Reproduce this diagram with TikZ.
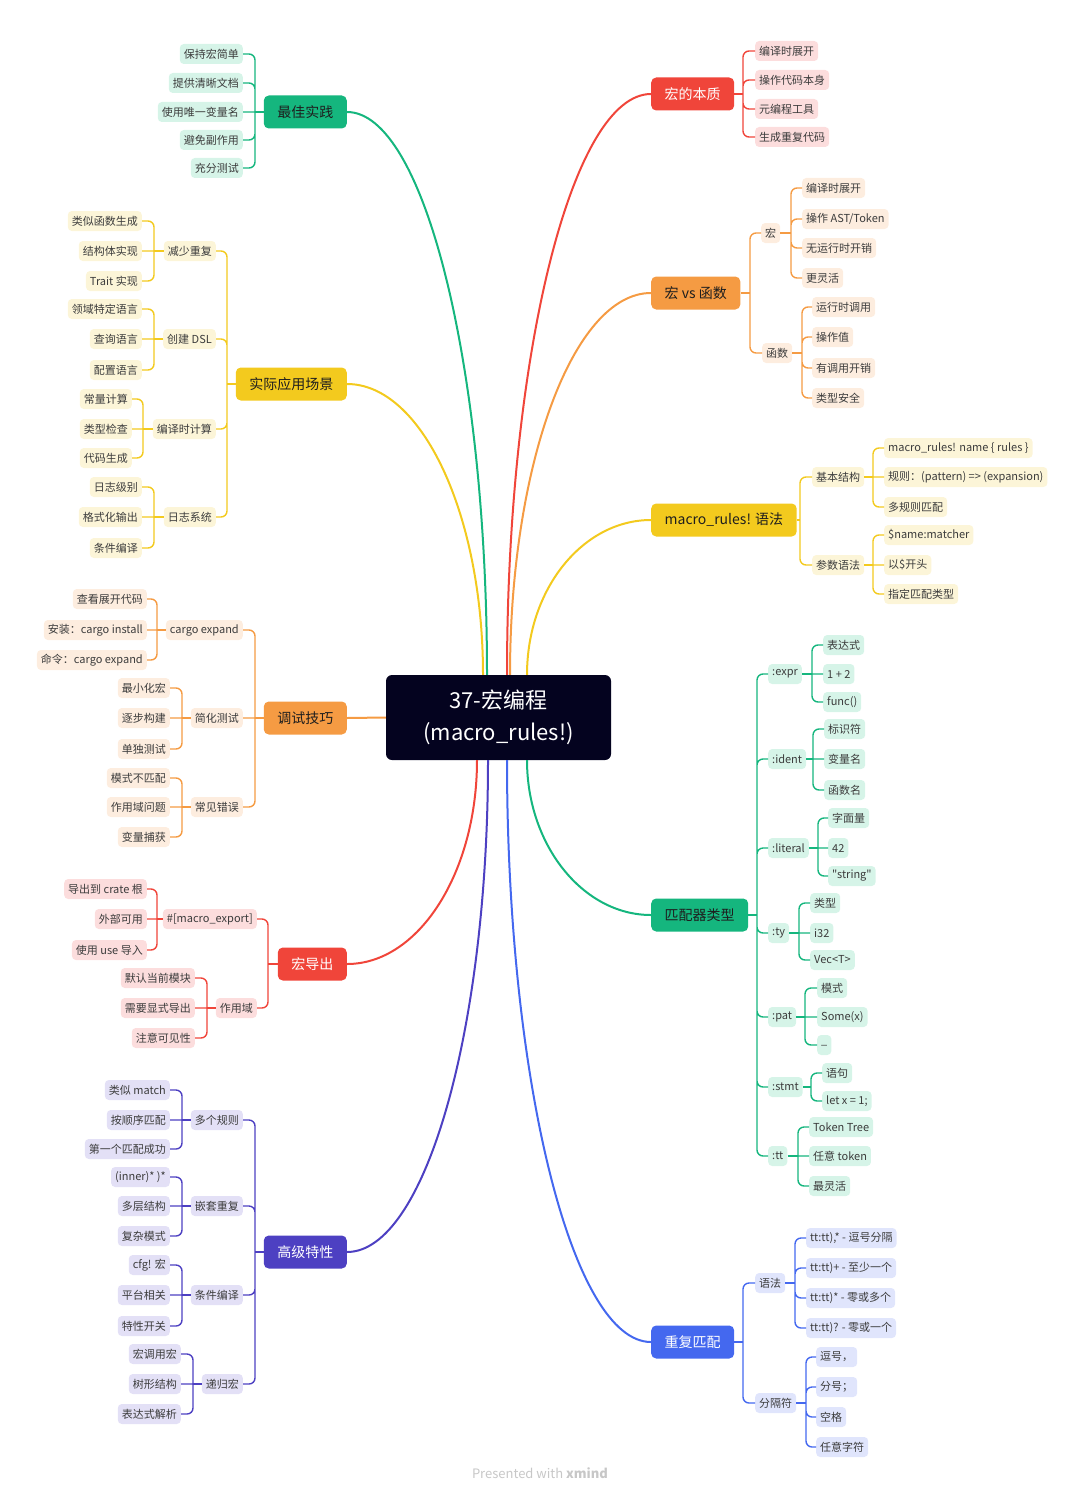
\documentclass[tikz,border=0pt]{standalone}
\usepackage{fontspec}
\setmainfont{Noto Sans CJK SC}
\newfontfamily\plainquote{Noto Sans CJK SC}[Ligatures=TeXOff]
\usepackage{tikz}

\definecolor{rootC}{HTML}{04031F}
\definecolor{ink}{HTML}{1E1E1E}
\definecolor{leafInk}{HTML}{3C3C3C}
\definecolor{redM}{HTML}{F0453A}
\definecolor{redL}{HTML}{FCDDDD}
\definecolor{orgM}{HTML}{F59B43}
\definecolor{orgL}{HTML}{FDEDDF}
\definecolor{yelM}{HTML}{F3CA1E}
\definecolor{yelL}{HTML}{FCF5D8}
\definecolor{grnM}{HTML}{15B67E}
\definecolor{grnL}{HTML}{D6F4E8}
\definecolor{bluM}{HTML}{4468EF}
\definecolor{bluL}{HTML}{E0E5FC}
\definecolor{purM}{HTML}{4D40C2}
\definecolor{purL}{HTML}{E3E0F6}

\begin{document}
\begin{tikzpicture}[x=1pt, y=-1pt,
    rootbox/.style={fill=rootC, text=white, rounded corners=6pt, minimum width=225pt, minimum height=85pt, align=center, font=\fontsize{22}{32}\selectfont},
    topic/.style={rounded corners=5pt, minimum height=33pt, inner xsep=13.5pt, inner ysep=0pt, text=ink, font=\fontsize{14}{16}\selectfont},
    leaf/.style={rounded corners=4pt, minimum height=20pt, inner xsep=4pt, inner ysep=0pt, text=leafInk, font=\fontsize{11}{13}\selectfont},
    trunk/.style={line width=2pt},
    twig/.style={line width=1.4pt, rounded corners=6pt}]
        \useasboundingbox (0,0) rectangle (1080,1498);

        % root and main topics
        \node[rootbox] (root) at (498.5,717.5) {37-宏编程\\(macro\_rules!)};
        \node[topic, fill=redM, text=white, anchor=west] (ess) at (651,94) {宏的本质};
        \node[topic, fill=orgM, anchor=west] (cmp) at (651,293) {宏 vs 函数};
        \node[topic, fill=yelM, anchor=west] (syn) at (651,520) {macro\_rules! 语法};
        \node[topic, fill=grnM, anchor=west] (mat) at (651,915) {匹配器类型};
        \node[topic, fill=bluM, text=white, anchor=west] (rep) at (651,1342) {重复匹配};
        \node[topic, fill=grnM, anchor=east] (best) at (347,112) {最佳实践};
        \node[topic, fill=yelM, anchor=east] (app) at (347,384) {实际应用场景};
        \node[topic, fill=orgM, anchor=east] (dbg) at (347,718) {调试技巧};
        \node[topic, fill=redM, text=white, anchor=east] (exp) at (347,964) {宏导出};
        \node[topic, fill=purM, text=white, anchor=east] (adv) at (347,1252) {高级特性};

        \draw[trunk, grnM] ([xshift=-11.5pt]root.north) .. controls +(0,-310) and +(77,0) .. (best.east);
        \draw[trunk, yelM] ([xshift=-15.5pt]root.north) .. controls +(0,-160) and +(75,0) .. (app.east);
        \draw[trunk, orgM] (root.west) -- (dbg.east);
        \draw[trunk, redM] ([xshift=-21.5pt]root.south) .. controls +(0,112) and +(72,0) .. (exp.east);
        \draw[trunk, purM] ([xshift=-10.5pt]root.south) .. controls +(0,270) and +(78,0) .. (adv.east);
        \draw[trunk, redM] ([xshift=8.5pt]root.north) .. controls +(0,-320) and +(-79,0) .. (ess.west);
        \draw[trunk, orgM] ([xshift=11.5pt]root.north) .. controls +(0,-210) and +(-78,0) .. (cmp.west);
        \draw[trunk, yelM] ([xshift=28.5pt]root.north) .. controls +(0,-86) and +(-68,0) .. (syn.west);
        \draw[trunk, grnM] ([xshift=28.5pt]root.south) .. controls +(0,85) and +(-68,0) .. (mat.west);
        \draw[trunk, bluM] ([xshift=8.5pt]root.south) .. controls +(0,320) and +(-79,0) .. (rep.west);

        % 宏的本质
        \node[leaf, fill=redL, anchor=west] (essa) at (755,51) {编译时展开};
        \node[leaf, fill=redL, anchor=west] (essb) at (755,80) {操作代码本身};
        \node[leaf, fill=redL, anchor=west] (essc) at (755,109) {元编程工具};
        \node[leaf, fill=redL, anchor=west] (essd) at (755,137) {生成重复代码};
        \draw[twig, redM] (ess.east) -- (743,94) coordinate (essJ);
        \draw[twig, redM] (essJ) |- (essa.west) (essJ) |- (essb.west) (essJ) |- (essc.west) (essJ) |- (essd.west);

        % 宏 vs 函数
        \node[leaf, fill=orgL, anchor=west] (cmpM) at (761,233) {宏};
        \node[leaf, fill=orgL, anchor=west] (cmpF) at (762,353) {函数};
        \draw[twig, orgM] (cmp.east) -- (750,293) coordinate (cmpJ);
        \draw[twig, orgM] (cmpJ) |- (cmpM.west) (cmpJ) |- (cmpF.west);
        \node[leaf, fill=orgL, anchor=west] (cmpMa) at (802,188) {编译时展开};
        \node[leaf, fill=orgL, anchor=west] (cmpMb) at (802,219) {操作 AST/Token};
        \node[leaf, fill=orgL, anchor=west] (cmpMc) at (802,248) {无运行时开销};
        \node[leaf, fill=orgL, anchor=west] (cmpMd) at (802,278) {更灵活};
        \draw[twig, orgM] (cmpM.east) -- (791,233) coordinate (cmpMJ);
        \draw[twig, orgM] (cmpMJ) |- (cmpMa.west) (cmpMJ) |- (cmpMb.west) (cmpMJ) |- (cmpMc.west) (cmpMJ) |- (cmpMd.west);
        \node[leaf, fill=orgL, anchor=west] (cmpFa) at (812,307) {运行时调用};
        \node[leaf, fill=orgL, anchor=west] (cmpFb) at (812,337) {操作值};
        \node[leaf, fill=orgL, anchor=west] (cmpFc) at (812,368) {有调用开销};
        \node[leaf, fill=orgL, anchor=west] (cmpFd) at (812,398) {类型安全};
        \draw[twig, orgM] (cmpF.east) -- (802,353) coordinate (cmpFJ);
        \draw[twig, orgM] (cmpFJ) |- (cmpFa.west) (cmpFJ) |- (cmpFb.west) (cmpFJ) |- (cmpFc.west) (cmpFJ) |- (cmpFd.west);

        % macro_rules! 语法
        \node[leaf, fill=yelL, anchor=west] (synB) at (812,477) {基本结构};
        \node[leaf, fill=yelL, anchor=west] (synP) at (812,565) {参数语法};
        \draw[twig, yelM] (syn.east) -- (800,520) coordinate (synJ);
        \draw[twig, yelM] (synJ) |- (synB.west) (synJ) |- (synP.west);
        \node[leaf, fill=yelL, anchor=west] (synBa) at (884,448) {macro\_rules! name \{ rules \}};
        \node[leaf, fill=yelL, anchor=west] (synBb) at (884,477) {规则：(pattern) => (expansion)};
        \node[leaf, fill=yelL, anchor=west] (synBc) at (884,507) {多规则匹配};
        \draw[twig, yelM] (synB.east) -- (873,477) coordinate (synBJ);
        \draw[twig, yelM] (synBJ) |- (synBa.west) (synBJ) -- (synBb.west) (synBJ) |- (synBc.west);
        \node[leaf, fill=yelL, anchor=west] (synPa) at (884,535) {\$name:matcher};
        \node[leaf, fill=yelL, anchor=west] (synPb) at (884,565) {以\$开头};
        \node[leaf, fill=yelL, anchor=west] (synPc) at (884,594) {指定匹配类型};
        \draw[twig, yelM] (synP.east) -- (873,565) coordinate (synPJ);
        \draw[twig, yelM] (synPJ) |- (synPa.west) (synPJ) -- (synPb.west) (synPJ) |- (synPc.west);

        % 匹配器类型
        \node[leaf, fill=grnL, anchor=west] (matE) at (768,674) {:expr};
        \node[leaf, fill=grnL, anchor=west] (matI) at (768,759) {:ident};
        \node[leaf, fill=grnL, anchor=west] (matL) at (768,848) {:literal};
        \node[leaf, fill=grnL, anchor=west] (matT) at (768,933) {:ty};
        \node[leaf, fill=grnL, anchor=west] (matP) at (768,1017) {:pat};
        \node[leaf, fill=grnL, anchor=west] (matS) at (768,1087) {:stmt};
        \node[leaf, fill=grnL, anchor=west] (matX) at (768,1156) {:tt};
        \draw[twig, grnM] (mat.east) -- (757,915) coordinate (matJ);
        \draw[twig, grnM] (matJ) |- (matE.west) (matJ) |- (matI.west) (matJ) |- (matL.west) (matJ) |- (matT.west)
            (matJ) |- (matP.west) (matJ) |- (matS.west) (matJ) |- (matX.west);
        \node[leaf, fill=grnL, anchor=west] (matEa) at (823,645) {表达式};
        \node[leaf, fill=grnL, anchor=west] (matEb) at (823,674) {1 + 2};
        \node[leaf, fill=grnL, anchor=west] (matEc) at (823,702) {func()};
        \draw[twig, grnM] (matE.east) -- (812,674) coordinate (matEJ);
        \draw[twig, grnM] (matEJ) |- (matEa.west) (matEJ) -- (matEb.west) (matEJ) |- (matEc.west);
        \node[leaf, fill=grnL, anchor=west] (matIa) at (824,729) {标识符};
        \node[leaf, fill=grnL, anchor=west] (matIb) at (824,759) {变量名};
        \node[leaf, fill=grnL, anchor=west] (matIc) at (824,790) {函数名};
        \draw[twig, grnM] (matI.east) -- (813,759) coordinate (matIJ);
        \draw[twig, grnM] (matIJ) |- (matIa.west) (matIJ) -- (matIb.west) (matIJ) |- (matIc.west);
        \node[leaf, fill=grnL, anchor=west] (matLa) at (828,818) {字面量};
        \node[leaf, fill=grnL, anchor=west] (matLb) at (828,848) {42};
        \node[leaf, fill=grnL, anchor=west] (matLc) at (828,876) {\plainquote "string"};
        \draw[twig, grnM] (matL.east) -- (818,848) coordinate (matLJ);
        \draw[twig, grnM] (matLJ) |- (matLa.west) (matLJ) -- (matLb.west) (matLJ) |- (matLc.west);
        \node[leaf, fill=grnL, anchor=west] (matTa) at (810,903) {类型};
        \node[leaf, fill=grnL, anchor=west] (matTb) at (810,933) {i32};
        \node[leaf, fill=grnL, anchor=west] (matTc) at (810,960) {Vec<T>};
        \draw[twig, grnM] (matT.east) -- (799,933) coordinate (matTJ);
        \draw[twig, grnM] (matTJ) |- (matTa.west) (matTJ) -- (matTb.west) (matTJ) |- (matTc.west);
        \node[leaf, fill=grnL, anchor=west] (matPa) at (817,988) {模式};
        \node[leaf, fill=grnL, anchor=west] (matPb) at (817,1017) {Some(x)};
        \node[leaf, fill=grnL, anchor=west] (matPc) at (817,1045) {\_};
        \draw[twig, grnM] (matP.east) -- (805,1017) coordinate (matPJ);
        \draw[twig, grnM] (matPJ) |- (matPa.west) (matPJ) -- (matPb.west) (matPJ) |- (matPc.west);
        \node[leaf, fill=grnL, anchor=west] (matSa) at (822,1073) {语句};
        \node[leaf, fill=grnL, anchor=west] (matSb) at (822,1101) {let x = 1;};
        \draw[twig, grnM] (matS.east) -- (811,1087) coordinate (matSJ);
        \draw[twig, grnM] (matSJ) |- (matSa.west) (matSJ) |- (matSb.west);
        \node[leaf, fill=grnL, anchor=west] (matXa) at (809,1127) {Token Tree};
        \node[leaf, fill=grnL, anchor=west] (matXb) at (809,1156) {任意 token};
        \node[leaf, fill=grnL, anchor=west] (matXc) at (809,1186) {最灵活};
        \draw[twig, grnM] (matX.east) -- (798,1156) coordinate (matXJ);
        \draw[twig, grnM] (matXJ) |- (matXa.west) (matXJ) -- (matXb.west) (matXJ) |- (matXc.west);

        % 重复匹配
        \node[leaf, fill=bluL, anchor=west] (repS) at (755,1283) {语法};
        \node[leaf, fill=bluL, anchor=west] (repD) at (755,1403) {分隔符};
        \draw[twig, bluM] (rep.east) -- (743,1342) coordinate (repJ);
        \draw[twig, bluM] (repJ) |- (repS.west) (repJ) |- (repD.west);
        \node[leaf, fill=bluL, anchor=west] (repSa) at (806,1238) {tt:tt),* - 逗号分隔};
        \node[leaf, fill=bluL, anchor=west] (repSb) at (806,1268) {tt:tt)+ - 至少一个};
        \node[leaf, fill=bluL, anchor=west] (repSc) at (806,1298) {tt:tt)* - 零或多个};
        \node[leaf, fill=bluL, anchor=west] (repSd) at (806,1328) {tt:tt)? - 零或一个};
        \draw[twig, bluM] (repS.east) -- (795,1283) coordinate (repSJ);
        \draw[twig, bluM] (repSJ) |- (repSa.west) (repSJ) |- (repSb.west) (repSJ) |- (repSc.west) (repSJ) |- (repSd.west);
        \node[leaf, fill=bluL, anchor=west] (repDa) at (816,1357) {逗号，};
        \node[leaf, fill=bluL, anchor=west] (repDb) at (816,1387) {分号；};
        \node[leaf, fill=bluL, anchor=west] (repDc) at (816,1417) {空格};
        \node[leaf, fill=bluL, anchor=west] (repDd) at (816,1447) {任意字符};
        \draw[twig, bluM] (repD.east) -- (806,1403) coordinate (repDJ);
        \draw[twig, bluM] (repDJ) |- (repDa.west) (repDJ) |- (repDb.west) (repDJ) |- (repDc.west) (repDJ) |- (repDd.west);

        % 最佳实践
        \node[leaf, fill=grnL, anchor=east] (besta) at (243,54) {保持宏简单};
        \node[leaf, fill=grnL, anchor=east] (bestb) at (243,83) {提供清晰文档};
        \node[leaf, fill=grnL, anchor=east] (bestc) at (243,112) {使用唯一变量名};
        \node[leaf, fill=grnL, anchor=east] (bestd) at (243,140) {避免副作用};
        \node[leaf, fill=grnL, anchor=east] (beste) at (243,168) {充分测试};
        \draw[twig, grnM] (best.west) -- (255,112) coordinate (bestJ);
        \draw[twig, grnM] (bestJ) |- (besta.east) (bestJ) |- (bestb.east) (bestJ) -- (bestc.east) (bestJ) |- (bestd.east) (bestJ) |- (beste.east);

        % 实际应用场景
        \node[leaf, fill=yelL, anchor=east] (app1) at (216,251) {减少重复};
        \node[leaf, fill=yelL, anchor=east] (app2) at (216,339) {创建 DSL};
        \node[leaf, fill=yelL, anchor=east] (app3) at (216,429) {编译时计算};
        \node[leaf, fill=yelL, anchor=east] (app4) at (216,517) {日志系统};
        \draw[twig, yelM] (app.west) -- (227,384) coordinate (appJ);
        \draw[twig, yelM] (appJ) |- (app1.east) (appJ) |- (app2.east) (appJ) |- (app3.east) (appJ) |- (app4.east);
        \node[leaf, fill=yelL, anchor=east] (app1a) at (142,221) {类似函数生成};
        \node[leaf, fill=yelL, anchor=east] (app1b) at (142,251) {结构体实现};
        \node[leaf, fill=yelL, anchor=east] (app1c) at (142,281) {Trait 实现};
        \draw[twig, yelM] (app1.west) -- (154,251) coordinate (app1J);
        \draw[twig, yelM] (app1J) |- (app1a.east) (app1J) -- (app1b.east) (app1J) |- (app1c.east);
        \node[leaf, fill=yelL, anchor=east] (app2a) at (142,309) {领域特定语言};
        \node[leaf, fill=yelL, anchor=east] (app2b) at (142,339) {查询语言};
        \node[leaf, fill=yelL, anchor=east] (app2c) at (142,370) {配置语言};
        \draw[twig, yelM] (app2.west) -- (154,339) coordinate (app2J);
        \draw[twig, yelM] (app2J) |- (app2a.east) (app2J) -- (app2b.east) (app2J) |- (app2c.east);
        \node[leaf, fill=yelL, anchor=east] (app3a) at (132,399) {常量计算};
        \node[leaf, fill=yelL, anchor=east] (app3b) at (132,429) {类型检查};
        \node[leaf, fill=yelL, anchor=east] (app3c) at (132,458) {代码生成};
        \draw[twig, yelM] (app3.west) -- (143,429) coordinate (app3J);
        \draw[twig, yelM] (app3J) |- (app3a.east) (app3J) -- (app3b.east) (app3J) |- (app3c.east);
        \node[leaf, fill=yelL, anchor=east] (app4a) at (142,487) {日志级别};
        \node[leaf, fill=yelL, anchor=east] (app4b) at (142,517) {格式化输出};
        \node[leaf, fill=yelL, anchor=east] (app4c) at (142,548) {条件编译};
        \draw[twig, yelM] (app4.west) -- (154,517) coordinate (app4J);
        \draw[twig, yelM] (app4J) |- (app4a.east) (app4J) -- (app4b.east) (app4J) |- (app4c.east);

        % 调试技巧
        \node[leaf, fill=orgL, anchor=east] (dbg1) at (243,630) {cargo expand};
        \node[leaf, fill=orgL, anchor=east] (dbg2) at (243,718) {简化测试};
        \node[leaf, fill=orgL, anchor=east] (dbg3) at (243,807) {常见错误};
        \draw[twig, orgM] (dbg.west) -- (255,718) coordinate (dbgJ);
        \draw[twig, orgM] (dbgJ) |- (dbg1.east) (dbgJ) -- (dbg2.east) (dbgJ) |- (dbg3.east);
        \node[leaf, fill=orgL, anchor=east] (dbg1a) at (147,599) {查看展开代码};
        \node[leaf, fill=orgL, anchor=east] (dbg1b) at (147,630) {安装：cargo install};
        \node[leaf, fill=orgL, anchor=east] (dbg1c) at (147,660) {命令：cargo expand};
        \draw[twig, orgM] (dbg1.west) -- (157,630) coordinate (dbg1J);
        \draw[twig, orgM] (dbg1J) |- (dbg1a.east) (dbg1J) -- (dbg1b.east) (dbg1J) |- (dbg1c.east);
        \node[leaf, fill=orgL, anchor=east] (dbg2a) at (170,688) {最小化宏};
        \node[leaf, fill=orgL, anchor=east] (dbg2b) at (170,718) {逐步构建};
        \node[leaf, fill=orgL, anchor=east] (dbg2c) at (170,749) {单独测试};
        \draw[twig, orgM] (dbg2.west) -- (182,718) coordinate (dbg2J);
        \draw[twig, orgM] (dbg2J) |- (dbg2a.east) (dbg2J) -- (dbg2b.east) (dbg2J) |- (dbg2c.east);
        \node[leaf, fill=orgL, anchor=east] (dbg3a) at (170,778) {模式不匹配};
        \node[leaf, fill=orgL, anchor=east] (dbg3b) at (170,807) {作用域问题};
        \node[leaf, fill=orgL, anchor=east] (dbg3c) at (170,837) {变量捕获};
        \draw[twig, orgM] (dbg3.west) -- (182,807) coordinate (dbg3J);
        \draw[twig, orgM] (dbg3J) |- (dbg3a.east) (dbg3J) -- (dbg3b.east) (dbg3J) |- (dbg3c.east);

        % 宏导出
        \node[leaf, fill=redL, anchor=east] (exp1) at (257,919) {\#[macro\_export]};
        \node[leaf, fill=redL, anchor=east] (exp2) at (257,1008) {作用域};
        \draw[twig, redM] (exp.west) -- (268,964) coordinate (expJ);
        \draw[twig, redM] (expJ) |- (exp1.east) (expJ) |- (exp2.east);
        \node[leaf, fill=redL, anchor=east] (exp1a) at (147,889) {导出到 crate 根};
        \node[leaf, fill=redL, anchor=east] (exp1b) at (147,919) {外部可用};
        \node[leaf, fill=redL, anchor=east] (exp1c) at (147,950) {使用 use 导入};
        \draw[twig, redM] (exp1.west) -- (157,919) coordinate (exp1J);
        \draw[twig, redM] (exp1J) |- (exp1a.east) (exp1J) -- (exp1b.east) (exp1J) |- (exp1c.east);
        \node[leaf, fill=redL, anchor=east] (exp2a) at (195,978) {默认当前模块};
        \node[leaf, fill=redL, anchor=east] (exp2b) at (195,1008) {需要显式导出};
        \node[leaf, fill=redL, anchor=east] (exp2c) at (195,1038) {注意可见性};
        \draw[twig, redM] (exp2.west) -- (207,1008) coordinate (exp2J);
        \draw[twig, redM] (exp2J) |- (exp2a.east) (exp2J) -- (exp2b.east) (exp2J) |- (exp2c.east);

        % 高级特性
        \node[leaf, fill=purL, anchor=east] (adv1) at (243,1120) {多个规则};
        \node[leaf, fill=purL, anchor=east] (adv2) at (243,1206) {嵌套重复};
        \node[leaf, fill=purL, anchor=east] (adv3) at (243,1295) {条件编译};
        \node[leaf, fill=purL, anchor=east] (adv4) at (243,1384) {递归宏};
        \draw[twig, purM] (adv.west) -- (255,1252) coordinate (advJ);
        \draw[twig, purM] (advJ) |- (adv1.east) (advJ) |- (adv2.east) (advJ) |- (adv3.east) (advJ) |- (adv4.east);
        \node[leaf, fill=purL, anchor=east] (adv1a) at (170,1090) {类似 match};
        \node[leaf, fill=purL, anchor=east] (adv1b) at (170,1120) {按顺序匹配};
        \node[leaf, fill=purL, anchor=east] (adv1c) at (170,1149) {第一个匹配成功};
        \draw[twig, purM] (adv1.west) -- (182,1120) coordinate (adv1J);
        \draw[twig, purM] (adv1J) |- (adv1a.east) (adv1J) -- (adv1b.east) (adv1J) |- (adv1c.east);
        \node[leaf, fill=purL, anchor=east] (adv2a) at (170,1177) {(inner)* )*};
        \node[leaf, fill=purL, anchor=east] (adv2b) at (170,1206) {多层结构};
        \node[leaf, fill=purL, anchor=east] (adv2c) at (170,1236) {复杂模式};
        \draw[twig, purM] (adv2.west) -- (182,1206) coordinate (adv2J);
        \draw[twig, purM] (adv2J) |- (adv2a.east) (adv2J) -- (adv2b.east) (adv2J) |- (adv2c.east);
        \node[leaf, fill=purL, anchor=east] (adv3a) at (170,1265) {cfg! 宏};
        \node[leaf, fill=purL, anchor=east] (adv3b) at (170,1295) {平台相关};
        \node[leaf, fill=purL, anchor=east] (adv3c) at (170,1326) {特性开关};
        \draw[twig, purM] (adv3.west) -- (182,1295) coordinate (adv3J);
        \draw[twig, purM] (adv3J) |- (adv3a.east) (adv3J) -- (adv3b.east) (adv3J) |- (adv3c.east);
        \node[leaf, fill=purL, anchor=east] (adv4a) at (181,1354) {宏调用宏};
        \node[leaf, fill=purL, anchor=east] (adv4b) at (181,1384) {树形结构};
        \node[leaf, fill=purL, anchor=east] (adv4c) at (181,1414) {表达式解析};
        \draw[twig, purM] (adv4.west) -- (193,1384) coordinate (adv4J);
        \draw[twig, purM] (adv4J) |- (adv4a.east) (adv4J) -- (adv4b.east) (adv4J) |- (adv4c.east);

        % watermark
        \node[text=black!22, font=\fontsize{13}{15}\selectfont] (mark) at (540,1473) {Presented with \textbf{xmind}};
\end{tikzpicture}
\end{document}
